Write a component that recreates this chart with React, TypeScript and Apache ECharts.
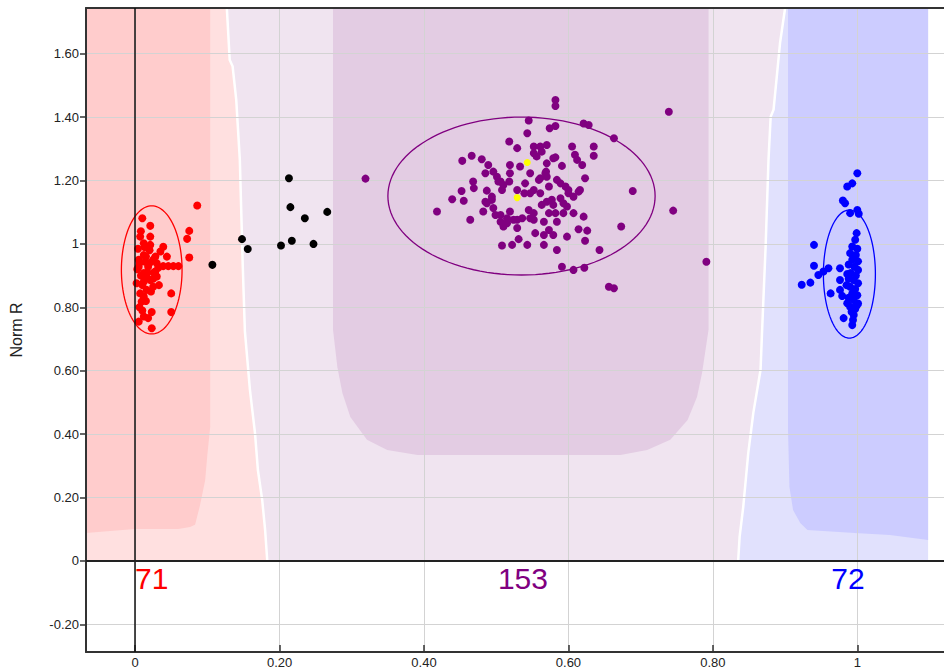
import React, { useEffect, useRef } from "react";
import * as echarts from "echarts";

// ---------- axis ranges ----------
const X_MIN = -0.068;
const X_MAX = 1.12;
const Y_MIN = -0.287;
const Y_MAX = 1.744;
const TICK_STEP = 0.2;

// ---------- genotype points (Norm Theta, Norm R) ----------
const redPoints = [
  [0.086, 1.121], [0.010, 1.081], [0.021, 1.057], [0.075, 1.041], [0.072, 1.016], [0.007, 1.023],
  [0.021, 1.023], [0.012, 1.002], [0.021, 0.997], [0.039, 0.991], [0.035, 0.976], [0.075, 0.957],
  [0.012, 0.965], [0.005, 0.950], [0.014, 0.944], [0.025, 0.950], [0.030, 0.939], [0.005, 0.928],
  [0.018, 0.928], [0.039, 0.930], [0.046, 0.930], [0.053, 0.930], [0.060, 0.930], [0.028, 0.913],
  [0.012, 0.908], [0.002, 0.876], [0.021, 0.886], [0.012, 0.881], [0.030, 0.897], [0.025, 0.865],
  [0.016, 0.855], [0.007, 0.844], [0.050, 0.844], [0.009, 0.818], [0.012, 0.834], [0.050, 0.785],
  [0.023, 0.785], [0.012, 0.771], [0.018, 0.766], [0.005, 0.755], [0.023, 0.734], [0.003, 0.920],
  [0.008, 0.900], [0.015, 0.960], [0.020, 0.940], [0.017, 0.910], [0.010, 0.870], [0.025, 0.890],
  [0.013, 0.990], [0.004, 0.985], [0.028, 0.960], [0.033, 0.870], [0.006, 0.800], [0.015, 0.820],
  [0.020, 0.980], [0.008, 1.040], [0.032, 0.925], [0.016, 0.895], [0.006, 0.940], [0.022, 0.850],
  [0.010, 0.790], [0.044, 0.960], [0.026, 0.910],
];

const blackPoints = [
  [0.107, 0.934], [0.148, 1.015], [0.156, 0.984], [0.202, 0.995], [0.213, 1.207],
  [0.215, 1.116], [0.217, 1.010], [0.235, 1.081], [0.247, 1.000], [0.266, 1.101],
];

const purplePoints = [
  [0.319, 1.206], [0.418, 1.102], [0.439, 1.141], [0.452, 1.167], [0.453, 1.262], [0.466, 1.278],
  [0.455, 1.136], [0.464, 1.076], [0.468, 1.197], [0.469, 1.176], [0.480, 1.267], [0.482, 1.102],
  [0.485, 1.223], [0.489, 1.249], [0.487, 1.168], [0.485, 1.133], [0.494, 1.139], [0.496, 1.228],
  [0.501, 1.212], [0.503, 1.197], [0.496, 1.113], [0.499, 1.091], [0.508, 1.170], [0.510, 1.186],
  [0.518, 1.323], [0.519, 1.249], [0.519, 1.223], [0.518, 1.197], [0.519, 1.102], [0.510, 1.055],
  [0.508, 0.995], [0.522, 0.997], [0.529, 1.302], [0.533, 1.244], [0.529, 1.050], [0.529, 1.076],
  [0.531, 1.015], [0.543, 0.997], [0.543, 1.349], [0.545, 1.389], [0.540, 1.191], [0.547, 1.160],
  [0.545, 1.107], [0.547, 1.081], [0.552, 1.097], [0.552, 1.170], [0.552, 1.307], [0.554, 1.034],
  [0.561, 1.160], [0.561, 1.307], [0.563, 1.291], [0.566, 0.997], [0.566, 1.070], [0.566, 1.028],
  [0.570, 1.312], [0.570, 1.254], [0.569, 1.228], [0.573, 1.181], [0.573, 1.097], [0.573, 1.044],
  [0.570, 1.212], [0.561, 1.207], [0.574, 1.365], [0.582, 1.372], [0.582, 1.454], [0.582, 1.435],
  [0.582, 1.273], [0.577, 1.139], [0.579, 1.123], [0.582, 1.097], [0.584, 1.070], [0.579, 1.028],
  [0.584, 0.981], [0.591, 1.246], [0.584, 1.202], [0.591, 0.928], [0.589, 1.191], [0.596, 1.181],
  [0.598, 1.118], [0.598, 1.023], [0.600, 1.170], [0.605, 1.307], [0.607, 1.097], [0.607, 0.918],
  [0.607, 1.149], [0.609, 1.281], [0.612, 1.265], [0.614, 1.165], [0.614, 1.046], [0.616, 1.170],
  [0.619, 1.249], [0.621, 1.086], [0.621, 1.380], [0.623, 1.207], [0.623, 1.010], [0.626, 1.042],
  [0.628, 1.375], [0.622, 0.925], [0.635, 1.307], [0.635, 1.278], [0.643, 0.981], [0.663, 1.333],
  [0.673, 1.055], [0.689, 1.167], [0.656, 0.865], [0.663, 0.860], [0.739, 1.417], [0.745, 1.105],
  [0.791, 0.944], [0.506, 1.070], [0.515, 1.065], [0.524, 1.076], [0.536, 1.081], [0.539, 1.160],
  [0.556, 1.276], [0.559, 1.202], [0.579, 1.270], [0.589, 1.144], [0.593, 1.128], [0.600, 1.160],
  [0.593, 1.097], [0.529, 1.170], [0.487, 1.128], [0.494, 1.149], [0.506, 1.091], [0.552, 1.076],
  [0.568, 1.223], [0.506, 1.197], [0.515, 1.081], [0.547, 1.223], [0.552, 1.286], [0.563, 1.123],
  [0.570, 1.133],
];

const yellowPoints = [[0.543, 1.257], [0.529, 1.146]];

const bluePoints = [
  [1.000, 1.223], [0.993, 1.191], [0.986, 1.181], [0.980, 1.137], [0.983, 1.128], [0.990, 1.097],
  [1.000, 1.107], [1.002, 1.095], [0.940, 0.997], [0.940, 0.931], [0.946, 0.902], [0.953, 0.913],
  [0.960, 0.923], [0.935, 0.878], [0.923, 0.871], [0.976, 0.923], [0.976, 0.886], [0.963, 0.844],
  [0.976, 0.855], [0.979, 0.836], [0.981, 0.766], [0.993, 0.744], [0.995, 0.776], [0.999, 1.034],
  [0.997, 1.013], [0.993, 0.992], [1.000, 0.985], [0.990, 0.971], [0.998, 0.965], [0.993, 0.950],
  [1.001, 0.945], [0.988, 0.935], [0.996, 0.928], [1.001, 0.918], [0.991, 0.908], [0.998, 0.900],
  [0.988, 0.890], [0.995, 0.886], [1.001, 0.876], [0.990, 0.865], [0.997, 0.858], [0.993, 0.844],
  [1.000, 0.838], [0.988, 0.830], [0.995, 0.823], [1.001, 0.812], [0.990, 0.802], [0.997, 0.795],
  [0.992, 0.786], [0.986, 0.813], [0.986, 0.905], [0.985, 0.870], [0.999, 0.805], [0.994, 0.760],
];

// ---------- cluster ellipses ----------
const ellipseCenters = [[0.023, 0.918], [0.535, 1.151], [0.989, 0.905]];
const ellipseRadii = [[0.042, 0.202], [0.185, 0.249], [0.036, 0.202]];
const clusterColors = ["#ff0000", "#800080", "#0000ff"];

// ---------- cluster counts ----------
const clusterCounts = ["71", "153", "72"];
const countX = [0.023, 0.537, 0.987];
const countY = -0.054;

// ---------- call-region boundaries (data units) ----------
const redPurpleBoundary = [
  [0.127, 1.744], [0.131, 1.580], [0.135, 1.560], [0.140, 1.455], [0.145, 1.265], [0.149, 0.934],
  [0.152, 0.725], [0.159, 0.540], [0.166, 0.403], [0.170, 0.287], [0.176, 0.192], [0.180, 0.098],
  [0.183, 0.0],
];
const purpleBlueBoundary = [
  [0.900, 1.744], [0.893, 1.634], [0.884, 1.423], [0.880, 1.401], [0.877, 1.265], [0.873, 0.991],
  [0.868, 0.719], [0.866, 0.603], [0.856, 0.467], [0.849, 0.341], [0.842, 0.170], [0.837, 0.076],
  [0.835, 0.0],
];
const blueRegionRight = 1.098;
const darkRedBlock = [
  [-0.068, 1.744], [0.104, 1.744], [0.104, 0.423], [0.100, 0.334], [0.097, 0.255], [0.090, 0.177],
  [0.083, 0.114], [0.076, 0.107], [0.060, 0.101], [0.0, 0.101], [-0.03, 0.095], [-0.068, 0.088],
];
const darkPurpleBlock = [
  [0.274, 1.744], [0.274, 0.729], [0.280, 0.612], [0.287, 0.530], [0.298, 0.454], [0.321, 0.382],
  [0.349, 0.350], [0.391, 0.334], [0.672, 0.334], [0.709, 0.350], [0.741, 0.382], [0.765, 0.445],
  [0.778, 0.517], [0.785, 0.593], [0.794, 0.729], [0.794, 1.744],
];
const darkBlueBlock = [
  [0.904, 1.744], [1.098, 1.744], [1.098, 0.066], [1.045, 0.082], [0.996, 0.088], [0.931, 0.098],
  [0.921, 0.120], [0.911, 0.161], [0.906, 0.233], [0.904, 0.413],
];

const regionColors = {
  lightRed: "#ffe0e0",
  lightPurple: "#f0e4f0",
  lightBlue: "#e1e1fd",
  darkRed: "#ffcccc",
  darkPurple: "#e3cce3",
  darkBlue: "#ccccff",
};

function fmt(v: number) {
  const q = v / TICK_STEP;
  if (Math.abs(q - Math.round(q)) > 1e-6) return "";
  if (Math.abs(v) < 1e-9) return "0";
  if (Math.abs(v - 1) < 1e-9) return "1";
  return v.toFixed(2);
}

export default function App() {
  const ref = useRef<HTMLDivElement>(null);

  useEffect(() => {
    if (!ref.current) return;
    const chart = echarts.init(ref.current, undefined, { renderer: "svg" });

    const regions: { pts: number[][]; fill?: string; stroke?: string }[] = [
      { pts: [[X_MIN, 0], [X_MIN, Y_MAX], ...redPurpleBoundary], fill: regionColors.lightRed },
      { pts: [...redPurpleBoundary, ...purpleBlueBoundary.slice().reverse()], fill: regionColors.lightPurple },
      { pts: [...purpleBlueBoundary, [blueRegionRight, 0], [blueRegionRight, Y_MAX]], fill: regionColors.lightBlue },
      { pts: darkRedBlock, fill: regionColors.darkRed },
      { pts: darkPurpleBlock, fill: regionColors.darkPurple },
      { pts: darkBlueBlock, fill: regionColors.darkBlue },
      { pts: redPurpleBoundary, stroke: "#ffffff" },
      { pts: purpleBlueBoundary, stroke: "#ffffff" },
    ];

    const scatter = (name: string, data: number[][], color: string, size = 8) => ({
      type: "scatter",
      name,
      data,
      symbol: "circle",
      symbolSize: size,
      itemStyle: { color, opacity: 1 },
      z: 4,
      silent: true,
    });

    const axisLabel = {
      fontFamily: "Liberation Sans, Arial, sans-serif",
      fontSize: 13,
      color: "#222",
      formatter: fmt,
      showMinLabel: false,
      showMaxLabel: false,
    };

    chart.setOption({
      animation: false,
      grid: { left: 86, top: 8, right: 0, bottom: 18, containLabel: false },
      xAxis: [
        {
          type: "value",
          min: X_MIN,
          max: X_MAX,
          splitNumber: 6,
          minInterval: TICK_STEP,
          maxInterval: TICK_STEP,
          z: 2,
          axisLine: { show: true, onZero: false, lineStyle: { color: "#333", width: 2 } },
          axisTick: { show: true, inside: true, length: 7, lineStyle: { color: "#333", width: 1.5 } },
          axisLabel: { ...axisLabel, margin: 4 },
          splitLine: { show: true, lineStyle: { color: "#d3d3d3", width: 1 } },
        },
        {
          type: "value",
          position: "top",
          min: X_MIN,
          max: X_MAX,
          z: 2,
          axisLine: { show: true, onZero: false, lineStyle: { color: "#333", width: 2 } },
          axisTick: { show: false },
          axisLabel: { show: false },
          splitLine: { show: false },
        },
      ],
      yAxis: {
        type: "value",
        min: Y_MIN,
        max: Y_MAX,
        splitNumber: 10,
        minInterval: TICK_STEP,
        maxInterval: TICK_STEP,
        z: 2,
        name: "Norm R",
        nameLocation: "middle",
        nameGap: 62,
        nameTextStyle: { fontFamily: "Liberation Sans, Arial, sans-serif", fontSize: 16, color: "#222" },
        axisLine: { show: true, onZero: false, lineStyle: { color: "#333", width: 2 } },
        axisTick: { show: true, inside: false, length: 6, lineStyle: { color: "#333", width: 1.5 } },
        axisLabel: { ...axisLabel, margin: 7 },
        splitLine: { show: true, lineStyle: { color: "#d3d3d3", width: 1 } },
      },
      series: [
        {
          type: "custom",
          name: "regions",
          z: 1,
          silent: true,
          clip: true,
          data: regions.map((_, i) => [0, 0, i]),
          renderItem: (params: any, api: any) => {
            const r = regions[params.dataIndex];
            const points = r.pts.map((p) => api.coord(p));
            if (r.stroke) {
              return {
                type: "polyline",
                shape: { points },
                style: { stroke: r.stroke, lineWidth: 2.5, fill: "none" },
              };
            }
            return { type: "polygon", shape: { points }, style: { fill: r.fill } };
          },
        },
        {
          type: "custom",
          name: "ellipses",
          z: 3,
          silent: true,
          clip: true,
          data: ellipseCenters.map((c, i) => [c[0], c[1], i]),
          renderItem: (params: any, api: any) => {
            const i = params.dataIndex;
            const c = api.coord(ellipseCenters[i]);
            const s = api.size(ellipseRadii[i]);
            const pts: number[][] = [];
            for (let k = 0; k <= 120; k++) {
              const t = (k / 120) * Math.PI * 2;
              pts.push([c[0] + s[0] * Math.cos(t), c[1] + s[1] * Math.sin(t)]);
            }
            return {
              type: "polyline",
              shape: { points: pts },
              style: { stroke: clusterColors[i], lineWidth: 1.3, fill: "none" },
            };
          },
        },
        {
          type: "scatter",
          name: "zeroLines",
          data: [],
          z: 3,
          silent: true,
          markLine: {
            silent: true,
            symbol: ["none", "none"],
            label: { show: false },
            animation: false,
            data: [
              { xAxis: 0, lineStyle: { color: "#111", width: 1.5, type: "solid" } },
              { yAxis: 0, lineStyle: { color: "#222", width: 2, type: "solid" } },
            ],
          },
        },
        scatter("AA", redPoints, clusterColors[0]),
        scatter("NC", blackPoints, "#000000"),
        scatter("AB", purplePoints, clusterColors[1]),
        scatter("BB", bluePoints, clusterColors[2]),
        scatter("Selected", yellowPoints, "#ffff00", 7),
        {
          type: "scatter",
          name: "counts",
          z: 5,
          silent: true,
          symbolSize: 1,
          itemStyle: { opacity: 0 },
          data: clusterCounts.map((t, i) => ({
            name: t,
            value: [countX[i], countY],
            label: {
              show: true,
              position: "inside",
              formatter: t,
              color: clusterColors[i],
              opacity: 1,
              fontSize: 30,
              fontFamily: "Liberation Sans, Arial, sans-serif",
            },
          })),
        },
      ],
    });

    return () => chart.dispose();
  }, []);

  return (
    <div
      ref={ref}
      style={{ position: "absolute", left: 0, top: 0, width: 944, height: 670, background: "#fff" }}
    />
  );
}
